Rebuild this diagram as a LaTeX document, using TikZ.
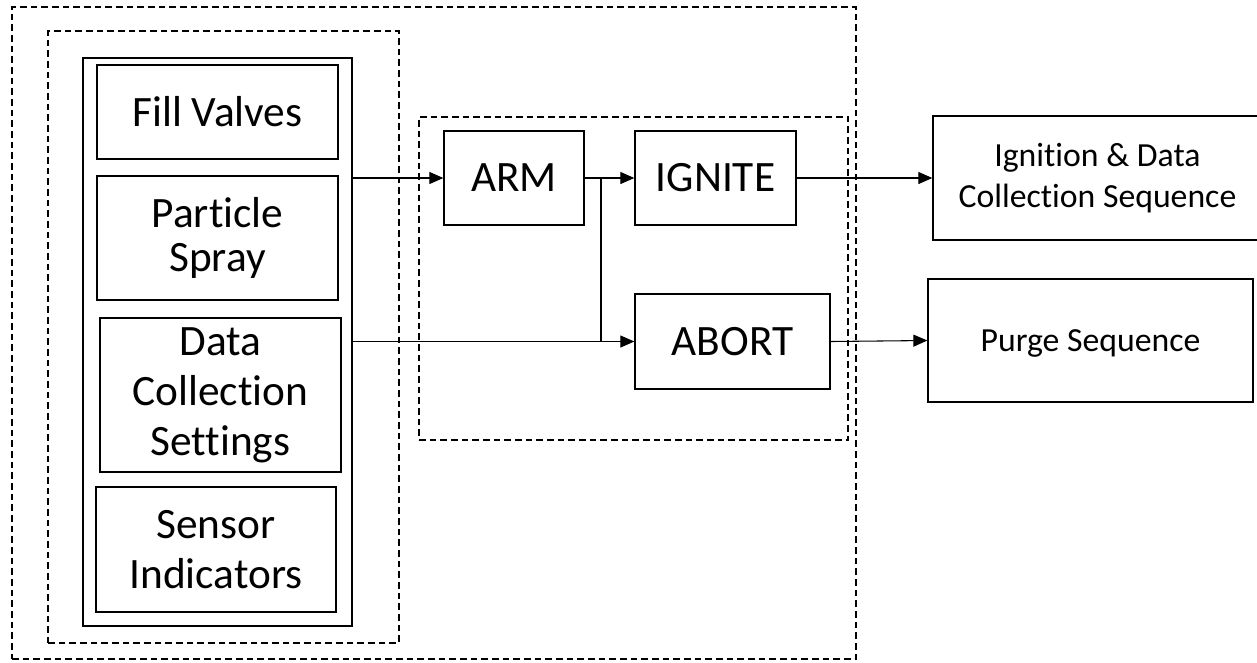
\documentclass[tikz,border=0pt]{standalone}
\usepackage{fontspec}
\setmainfont{Carlito}[Ligatures=CommonOff]
\usetikzlibrary{arrows.meta}
\begin{document}
\begin{tikzpicture}[x=0.75pt,y=-0.75pt,
  box/.style={draw,line width=1pt,rectangle,inner sep=0pt,align=center},
  group/.style={draw,line width=0.9pt,rectangle,inner sep=0pt,dash pattern=on 5pt off 3pt},
  big/.style={font=\fontsize{32.5}{37.5}\selectfont},
  small/.style={font=\fontsize{25.3}{30.75}\selectfont},
  link/.style={line width=0.8pt,-{Triangle[length=10.5pt,width=9pt]}},
  wire/.style={line width=0.8pt}]
\useasboundingbox (0,0) rectangle (1257,662);
\clip (0,0) rectangle (1257,662);

% grouping frames
\node[group,minimum width=844*0.75pt,minimum height=652*0.75pt] (outer) at (434,333) {};
\node[group,minimum width=351*0.75pt,minimum height=612*0.75pt] (leftgrp) at (223.5,337) {};
\node[group,minimum width=429*0.75pt,minimum height=323*0.75pt] (midgrp) at (633.5,278.5) {};

% settings panel
\node[box,minimum width=269*0.75pt,minimum height=568*0.75pt] (panel) at (217.5,342) {};
\node[box,big,minimum width=241*0.75pt,minimum height=94*0.75pt] (fill) at (217.5,112) {Fill Valves};
\node[box,font=\fontsize{32.5}{33}\selectfont,minimum width=241*0.75pt,minimum height=124*0.75pt] (spray) at (217.5,238) {Particle\\Spray};
\node[box,big,minimum width=241*0.75pt,minimum height=154*0.75pt] (data) at (220.5,395) {Data\\Collection\\Settings};
\node[box,big,minimum width=240*0.75pt,minimum height=125*0.75pt] (sensor) at (216,549.5) {Sensor\\Indicators};

% command blocks
\node[box,big,minimum width=140*0.75pt,minimum height=94*0.75pt] (arm) at (514,178) {ARM};
\node[box,big,minimum width=161*0.75pt,minimum height=94*0.75pt] (ignite) at (715.5,178) {IGNITE};
\node[box,big,minimum width=195*0.75pt,minimum height=95*0.75pt] (abort) at (732.5,341.5) {ABORT};

% resulting sequences
\node[box,small,minimum width=329*0.75pt,minimum height=124*0.75pt] (ignseq) at (1097.5,178) {Ignition \& Data\\Collection Sequence};
\node[box,small,text height=17pt,text depth=0pt,minimum width=325*0.75pt,minimum height=123*0.75pt] (purge) at (1090.5,340.5) {Purge Sequence};

% connectors
\coordinate (br) at (601,178);
\draw[link] (panel.east |- arm.west) -- (arm.west);
\draw[link] (panel.east |- abort.west) -- (abort.west);
\draw[link] (arm.east) -- (ignite.west);
\draw[wire] (br) -- (br |- abort.west);
\draw[link] (ignite.east) -- (ignseq.west);
\draw[link] (abort.east) -- (purge.west);
\end{tikzpicture}
\end{document}
